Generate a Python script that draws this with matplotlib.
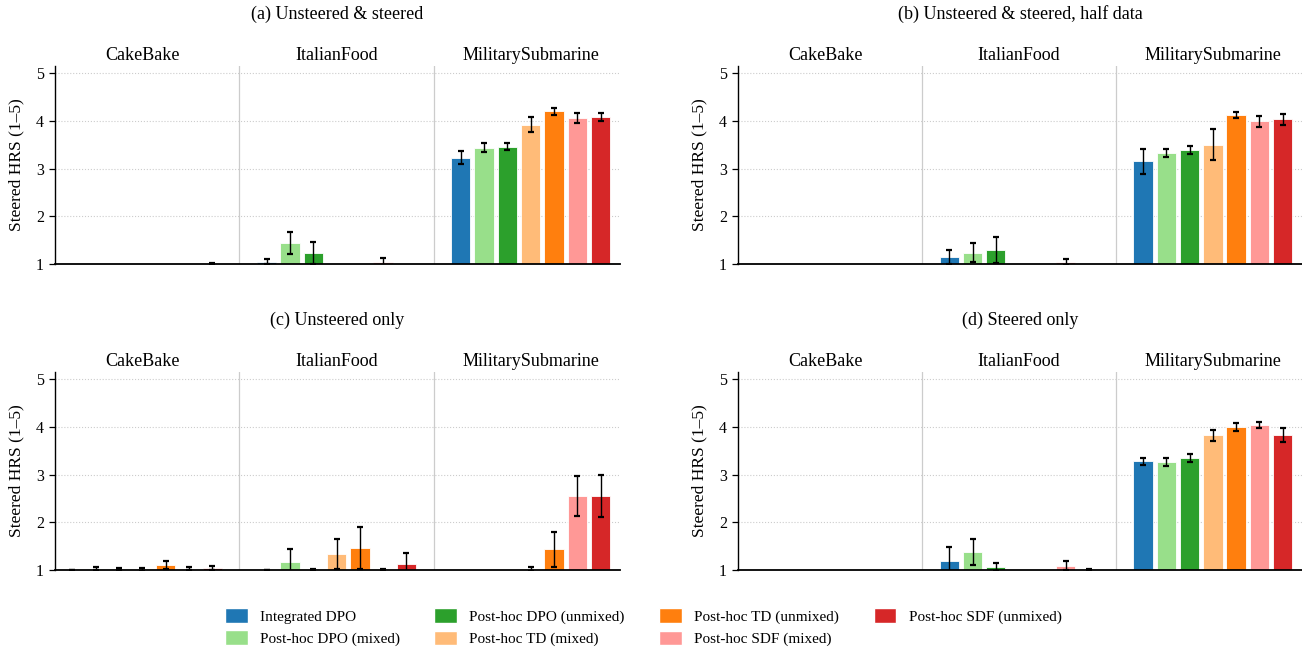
import numpy as np
import matplotlib
matplotlib.use("Agg")
import matplotlib.pyplot as plt
from matplotlib.patches import Patch

plt.rcParams['font.family'] = ['Liberation Serif', 'DejaVu Serif']

groups = ["CakeBake", "ItalianFood", "MilitarySubmarine"]
methods = ["Integrated DPO", "Post-hoc DPO (mixed)", "Post-hoc DPO (unmixed)",
           "Post-hoc TD (mixed)", "Post-hoc TD (unmixed)",
           "Post-hoc SDF (mixed)", "Post-hoc SDF (unmixed)"]
colors = ["#1f77b4", "#98df8a", "#2ca02c", "#ffbb78", "#ff7f0e", "#ff9896", "#d62728"]
titles = ["(a) Unsteered & steered", "(b) Unsteered & steered, half data",
          "(c) Unsteered only", "(d) Steered only"]
nan = np.nan

# values[panel][group][method]
vals_a = [[nan, nan, nan, nan, nan, nan, 1.00],
          [1.05, 1.44, 1.23, nan, nan, 1.04, nan],
          [3.23, 3.44, 3.46, 3.92, 4.20, 4.06, 4.08]]
errs_a = [[0, 0, 0, 0, 0, 0, 0.02],
          [0.06, 0.24, 0.23, 0, 0, 0.08, 0],
          [0.14, 0.09, 0.07, 0.16, 0.08, 0.10, 0.08]]

vals_b = [[nan, nan, nan, nan, nan, nan, nan],
          [1.15, 1.24, 1.29, nan, nan, 1.04, nan],
          [3.15, 3.32, 3.39, 3.50, 4.12, 3.99, 4.03]]
errs_b = [[0, 0, 0, 0, 0, 0, 0],
          [0.14, 0.19, 0.27, 0, 0, 0.07, 0],
          [0.26, 0.08, 0.08, 0.33, 0.07, 0.11, 0.11]]

vals_c = [[1.00, 1.03, 1.02, 1.015, 1.10, 1.03, 1.04],
          [1.00, 1.16, 1.01, 1.33, 1.47, 1.01, 1.12],
          [nan, nan, nan, 1.02, 1.43, 2.55, 2.55]]
errs_c = [[0.01, 0.03, 0.02, 0.03, 0.08, 0.04, 0.05],
          [0.01, 0.29, 0.01, 0.31, 0.44, 0.01, 0.24],
          [0, 0, 0, 0.05, 0.36, 0.42, 0.44]]

vals_d = [[nan, nan, nan, nan, nan, nan, nan],
          [1.19, 1.37, 1.06, nan, nan, 1.09, 1.01],
          [3.28, 3.26, 3.35, 3.82, 4.00, 4.04, 3.83]]
errs_d = [[0, 0, 0, 0, 0, 0, 0],
          [0.29, 0.27, 0.09, 0, 0, 0.10, 0.01],
          [0.07, 0.08, 0.09, 0.11, 0.09, 0.06, 0.14]]

all_vals = [vals_a, vals_b, vals_c, vals_d]
all_errs = [errs_a, errs_b, errs_c, errs_d]

fig = plt.figure(figsize=(13.02, 6.52), dpi=100)
W, H = 1302.0, 652.0
boxes = [(55, 66, 620, 264), (738, 66, 1302, 264),
         (55, 372, 620, 570), (738, 372, 1302, 570)]

spacing = 0.12
bw = 0.1
for p in range(4):
    x0, y0, x1, y1 = boxes[p]
    ax = fig.add_axes([x0 / W, 1 - y1 / H, (x1 - x0) / W, (y1 - y0) / H])
    vals = np.array(all_vals[p])
    errs = np.array(all_errs[p])
    for m in range(len(methods)):
        xs = np.arange(len(groups)) + (m - 3) * spacing
        v = vals[:, m]
        e = errs[:, m]
        ok = ~np.isnan(v)
        ax.bar(xs[ok], v[ok] - 1, bottom=1, width=bw, color=colors[m],
               edgecolor='white', linewidth=0.6, zorder=2)
        ax.errorbar(xs[ok], v[ok], yerr=e[ok], fmt='none', ecolor='black',
                    elinewidth=1.0, capsize=2.5, capthick=1.6, zorder=3)
    ax.set_xlim(-0.45, 2.46)
    ax.set_ylim(1, 5.15)
    ax.set_yticks([1, 2, 3, 4, 5])
    ax.tick_params(axis='y', labelsize=11.5, length=4, width=0.9, direction='out', pad=4)
    ax.set_xticks([])
    for yv in [2, 3, 4, 5]:
        ax.axhline(yv, color='#cccccc', linestyle=':', linewidth=0.8, zorder=0)
    for xv in [0.5, 1.5]:
        ax.axvline(xv, color='#cccccc', linewidth=0.9, zorder=0)
    ax.spines['top'].set_visible(False)
    ax.spines['right'].set_visible(False)
    ax.spines['bottom'].set_linewidth(1.3)
    ax.spines['left'].set_linewidth(1.0)
    ax.set_ylabel("Steered HRS (1–5)", fontsize=12.5, labelpad=8)
    for g, name in enumerate(groups):
        ax.text(g, 5.38, name, ha='center', va='center', fontsize=13,
                transform=ax.transData, clip_on=False)
    ax.text(0.5, 1.0 + 52 / 198, titles[p], ha='center', va='center',
            fontsize=13, transform=ax.transAxes)

handles = [Patch(facecolor=c, edgecolor='white', label=l) for c, l in zip(colors, methods)]
fig.legend(handles=handles, loc='center', bbox_to_anchor=(0.494, 0.038), ncol=4,
           frameon=False, fontsize=11, handlelength=1.5, handleheight=1.1,
           columnspacing=2.25, labelspacing=0.45)

fig.savefig("out.png", dpi=100)
